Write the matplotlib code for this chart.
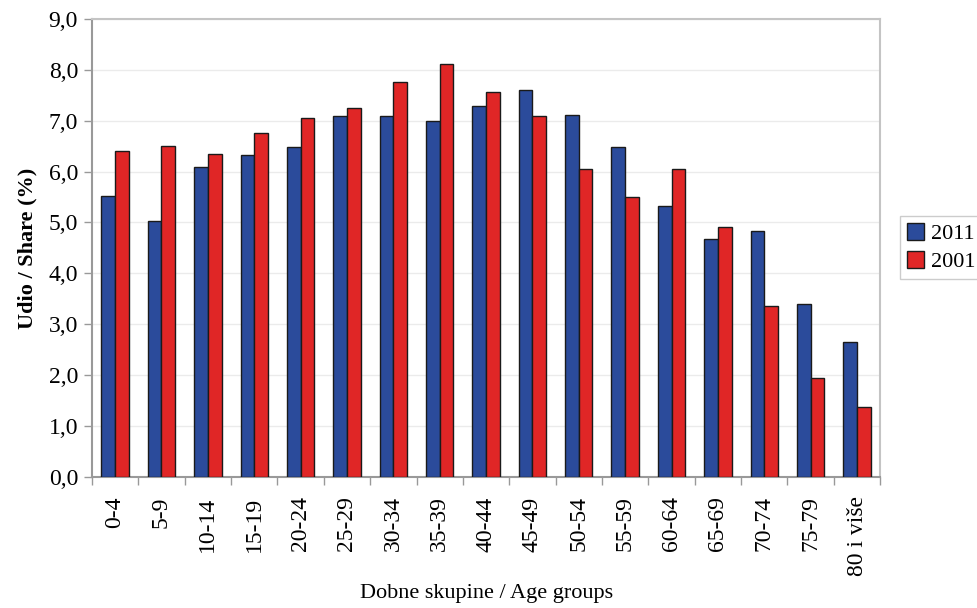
import matplotlib
matplotlib.use("Agg")
import matplotlib.pyplot as plt
import numpy as np

# Dobne skupine / age groups
groups = ["0-4", "5-9", "10-14", "15-19", "20-24", "25-29", "30-34", "35-39",
          "40-44", "45-49", "50-54", "55-59", "60-64", "65-69", "70-74",
          "75-79", "80 i više"]
share_2011 = [5.51, 5.02, 6.08, 6.33, 6.48, 7.09, 7.09, 6.99,
              7.29, 7.60, 7.11, 6.48, 5.32, 4.68, 4.84, 3.40, 2.65]
share_2001 = [6.41, 6.51, 6.35, 6.75, 7.06, 7.24, 7.75, 8.12,
              7.57, 7.09, 6.05, 5.50, 6.05, 4.92, 3.35, 1.94, 1.37]
yticks = np.arange(0, 9.1, 1.0)

plt.rcParams['font.family'] = ['Liberation Serif', 'DejaVu Serif']

fig = plt.figure(figsize=(9.78, 6.08), dpi=100)
ax = fig.add_axes([0.094, 0.2155, 0.806, 0.7535])

x = np.arange(len(groups))
w = 0.295
ax.bar(x - w / 2, share_2011, w, color='#2B4B9B', edgecolor='#1a1a1a',
       linewidth=1, label='2011', zorder=3)
ax.bar(x + w / 2, share_2001, w, color='#E02626', edgecolor='#1a1a1a',
       linewidth=1, label='2001', zorder=3)

ax.set_xlim(-0.5, len(groups) - 0.5)
ax.set_ylim(0, 9)
ax.set_yticks(yticks)
ax.set_yticklabels([f"{v:.1f}".replace('.', ',') for v in yticks], fontsize=17)

# x ticks at category boundaries, labels centred under groups
ax.set_xticks(np.arange(-0.5, len(groups), 1.0))
ax.set_xticklabels([])
ax.set_xticks(x, minor=True)
ax.set_xticklabels(groups, minor=True, rotation=90, fontsize=17)
ax.tick_params(axis='x', which='minor', length=0, pad=14)
ax.tick_params(axis='x', which='major', length=6, color='#999999', width=1)
ax.tick_params(axis='y', length=6, color='#999999', width=1, pad=4)

ax.grid(axis='y', color='#ebebeb', linewidth=1, zorder=0)
for s in ['top', 'right']:
    ax.spines[s].set_color('#c4c4c4')
    ax.spines[s].set_linewidth(1.5)
for s in ['left', 'bottom']:
    ax.spines[s].set_color('#999999')
    ax.spines[s].set_linewidth(1.5)

ax.set_ylabel("Udio / Share (%)", fontsize=16, fontweight='bold', labelpad=8)
ax.set_xlabel("Dobne skupine / Age groups", fontsize=16)
ax.xaxis.label.set_va('center')
ax.xaxis.set_label_coords(0.5, -0.255)

leg = ax.legend(loc='center left', bbox_to_anchor=(1.025, 0.501), fontsize=16,
                frameon=True, fancybox=False, edgecolor='#c0c0c0',
                handlelength=0.8, handleheight=0.8, handletextpad=0.3,
                borderpad=0.3, labelspacing=0.3, borderaxespad=0)
leg.get_frame().set_linewidth(1)

fig.savefig("out.png", dpi=100, facecolor='white')
